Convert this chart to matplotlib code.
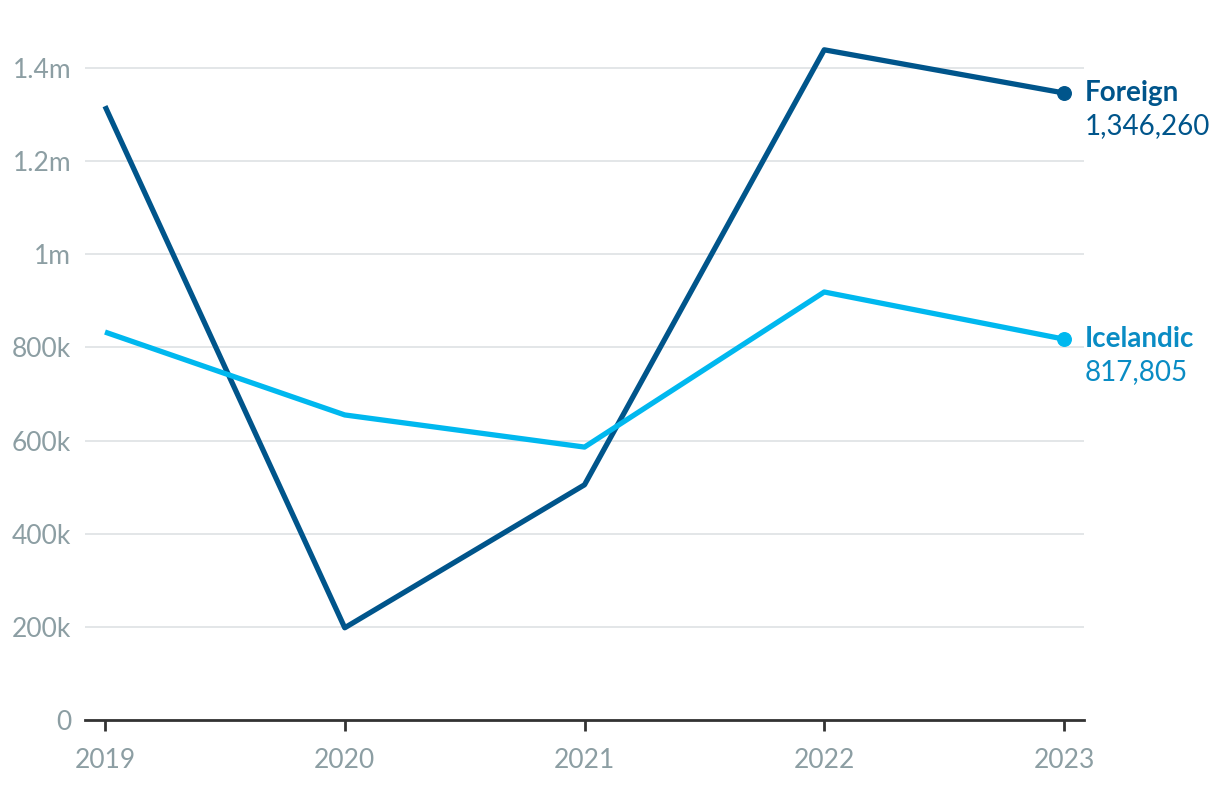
import matplotlib
matplotlib.use("Agg")
import matplotlib.pyplot as plt
from matplotlib.ticker import FuncFormatter

years = [2019, 2020, 2021, 2022, 2023]
foreign = [1318000, 198000, 505000, 1439000, 1346260]
icelandic = [833000, 655000, 586000, 919000, 817805]
y_ticks = [0, 200000, 400000, 600000, 800000, 1000000, 1200000, 1400000]

DARK = "#00558b"
LIGHT = "#00b8ef"
LIGHT_TXT = "#0a8cc4"
GREY = "#8c9ea3"

plt.rcParams["font.family"] = ["Lato", "DejaVu Sans"]

fig = plt.figure(figsize=(12.2, 7.88), dpi=100)
W, H = 1220, 788
ax = fig.add_axes([85 / W, (H - 720) / H, (1084 - 85) / W, 698.6 / H])

ax.plot(years, foreign, color=DARK, lw=3.8, solid_capstyle="butt", zorder=3)
ax.plot(years, icelandic, color=LIGHT, lw=3.8, solid_capstyle="butt", zorder=3)
ax.scatter([years[-1]], [foreign[-1]], s=95, color=DARK, zorder=4)
ax.scatter([years[-1]], [icelandic[-1]], s=95, color=LIGHT, zorder=4)

ax.set_xlim(2019 - 20 / 239.75, 2023 + 20 / 239.75)
ax.set_ylim(0, 1.5e6)


def fmt(v, _):
    if v == 0:
        return "0"
    if v >= 1e6:
        s = f"{v / 1e6:.1f}".rstrip("0").rstrip(".")
        return s + "m"
    return f"{int(v / 1000)}k"


ax.set_yticks(y_ticks)
ax.yaxis.set_major_formatter(FuncFormatter(fmt))
ax.set_xticks(years)
ax.set_xticklabels([str(y) for y in years])

ax.grid(axis="y", color="#e1e4e6", lw=1.3)
ax.set_axisbelow(True)
for s in ["top", "right", "left"]:
    ax.spines[s].set_visible(False)
ax.spines["bottom"].set_color("#333333")
ax.spines["bottom"].set_linewidth(2)
ax.tick_params(axis="y", length=0, pad=10, labelsize=19, labelcolor=GREY)
ax.tick_params(axis="x", length=8, width=2, color="#333333", pad=12,
               labelsize=19, labelcolor=GREY)

for name, vals, col in [("Foreign", foreign, DARK),
                        ("Icelandic", icelandic, LIGHT_TXT)]:
    ax.annotate(name, (years[-1], vals[-1]), xytext=(15, 0),
                textcoords="offset points", color=col, fontsize=20,
                fontweight="bold", va="center", ha="left",
                annotation_clip=False)
    ax.annotate(f"{vals[-1]:,}", (years[-1], vals[-1]), xytext=(15, -24),
                textcoords="offset points", color=col, fontsize=20,
                va="center", ha="left", annotation_clip=False)

fig.savefig("out.png", dpi=100)
